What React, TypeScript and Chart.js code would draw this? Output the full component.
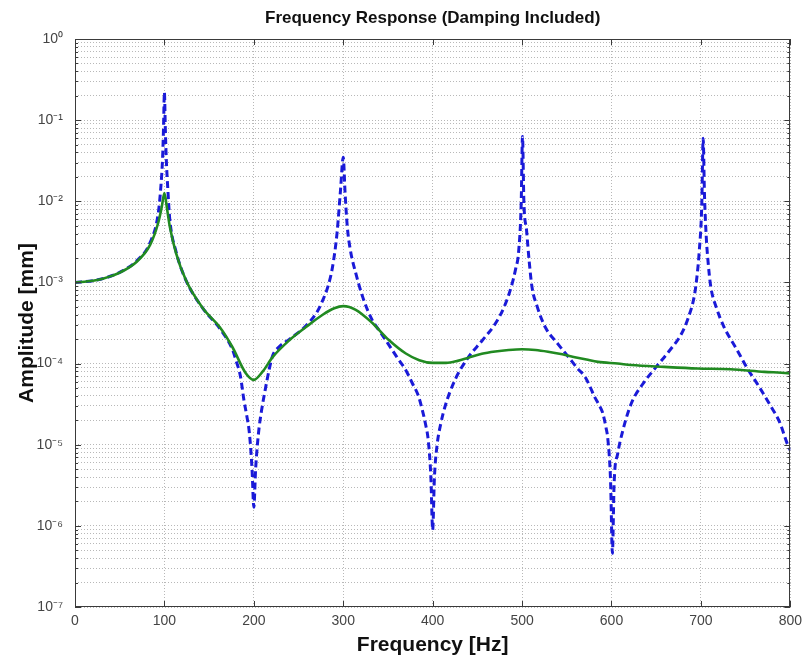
import React, { useEffect, useRef } from 'react';
import { Chart, registerables } from 'chart.js';

Chart.register(...registerables);

// Frequency [Hz] and amplitude [mm]
const freqBlue = [0, 20, 32, 50, 69, 84, 93, 96, 98, 99, 100, 101, 102, 104, 106, 113, 124, 143, 162, 176, 180, 185, 189, 192, 195, 198, 200, 202, 204, 206, 209, 212, 217, 221, 228, 240, 258, 270, 277, 283, 288, 293, 297, 300, 302, 304.5, 308, 314, 322, 332, 342, 351, 360, 370, 377, 384, 388, 392, 395, 398, 400, 402, 405, 409, 414, 425, 440, 455, 470, 480, 488, 493, 496, 499, 500.5, 502, 505, 508, 511, 517, 526, 540, 552, 562, 570, 576, 581, 586, 590, 594, 596, 599, 601, 603, 607, 612, 622, 635, 650, 665, 678, 686, 693, 696, 698, 701, 702.5, 704, 706, 708, 711, 717, 726, 740, 752, 765, 778, 788, 797, 800];
const ampBlue = [1.0e-3, 1.05e-3, 1.12e-3, 1.33e-3, 1.85e-3, 3.1e-3, 7e-3, 1.5e-2, 3.5e-2, 8e-2, 0.22, 8e-2, 3.5e-2, 1.3e-2, 6e-3, 2.4e-3, 1.07e-3, 4.8e-4, 2.7e-4, 1.5e-4, 1.1e-4, 7e-5, 3.5e-5, 2.3e-5, 1.4e-5, 5e-6, 1.7e-6, 5e-6, 1.0e-5, 1.66e-5, 2.8e-5, 4.3e-5, 8.3e-5, 1.25e-4, 1.6e-4, 2.0e-4, 2.9e-4, 4.2e-4, 6.0e-4, 9e-4, 1.55e-3, 4.0e-3, 1.4e-2, 3.5e-2, 1.3e-2, 4.9e-3, 2.5e-3, 1.3e-3, 6.5e-4, 3.5e-4, 2.4e-4, 1.7e-4, 1.2e-4, 8.3e-5, 5.8e-5, 4.0e-5, 2.8e-5, 1.8e-5, 1.15e-5, 4e-6, 8.9e-7, 4e-6, 1.0e-5, 1.8e-5, 3.0e-5, 6.3e-5, 1.2e-4, 1.9e-4, 3.1e-4, 5.0e-4, 8.9e-4, 1.5e-3, 2.3e-3, 9.3e-3, 6.3e-2, 1.0e-2, 4.4e-3, 1.8e-3, 8.9e-4, 5.0e-4, 2.8e-4, 1.75e-4, 1.2e-4, 8.7e-5, 7e-5, 5.2e-5, 3.9e-5, 3.1e-5, 2.5e-5, 1.6e-5, 1.15e-5, 3.5e-6, 4.6e-7, 3.5e-6, 7.8e-6, 1.4e-5, 3.2e-5, 5.6e-5, 9.1e-5, 1.45e-4, 2.3e-4, 3.7e-4, 7.2e-4, 1.3e-3, 2.3e-3, 9.3e-3, 6e-2, 1.2e-2, 3.6e-3, 1.8e-3, 8.9e-4, 5.0e-4, 2.8e-4, 1.5e-4, 8.7e-5, 5.2e-5, 3.0e-5, 1.9e-5, 1.0e-5, 8.5e-6];

const freqGreen = [0, 20, 32, 50, 69, 84, 93, 97, 100, 103, 106, 113, 124, 143, 162, 176, 191, 200, 210, 221, 240, 258, 277, 290, 300, 314, 332, 351, 370, 385, 400, 415, 428, 440, 455, 470, 485, 500, 515, 529, 545, 559, 572, 585, 607, 622, 659, 696, 733, 771, 797, 800];
const ampGreen = [1.0e-3, 1.05e-3, 1.12e-3, 1.32e-3, 1.8e-3, 2.9e-3, 5.4e-3, 8.5e-3, 1.26e-2, 8.0e-3, 4.9e-3, 2.3e-3, 1.07e-3, 4.8e-4, 2.8e-4, 1.6e-4, 7.6e-5, 6.3e-5, 8.0e-5, 1.2e-4, 1.95e-4, 2.8e-4, 4.0e-4, 4.8e-4, 5.1e-4, 4.6e-4, 3.2e-4, 1.95e-4, 1.33e-4, 1.1e-4, 1.02e-4, 1.02e-4, 1.08e-4, 1.18e-4, 1.32e-4, 1.41e-4, 1.47e-4, 1.5e-4, 1.47e-4, 1.4e-4, 1.3e-4, 1.2e-4, 1.12e-4, 1.05e-4, 1.0e-4, 9.6e-5, 9.1e-5, 8.7e-5, 8.5e-5, 7.9e-5, 7.6e-5, 7.5e-5];

const xTickValues = [0, 100, 200, 300, 400, 500, 600, 700, 800];
const decadeExponents = [-7, -6, -5, -4, -3, -2, -1, 0];
const minorMultipliers = [1, 2, 3, 4, 5, 6, 7, 8, 9];

const TITLE = 'Frequency Response (Damping Included)';
const X_TITLE = 'Frequency [Hz]';
const Y_TITLE = 'Amplitude [mm]';

const FONT = "'Liberation Sans', Arial, Helvetica, sans-serif";

const SUP: Record<string, string> = {
  '-': '\u207B', '0': '\u2070', '1': '\u00B9', '2': '\u00B2', '3': '\u00B3',
  '4': '\u2074', '5': '\u2075', '6': '\u2076', '7': '\u2077', '8': '\u2078', '9': '\u2079',
};
const sup = (n: number) => String(n).split('').map((c) => SUP[c] || c).join('');

const yTickValues: number[] = [];
decadeExponents.forEach((d) => {
  if (d === 0) {
    yTickValues.push(1);
  } else {
    minorMultipliers.forEach((m) => yTickValues.push(Number((m * Math.pow(10, d)).toPrecision(3))));
  }
});

const isDecade = (v: number) => {
  const l = Math.log10(v);
  return Math.abs(l - Math.round(l)) < 1e-9;
};

const boxPlugin = {
  id: 'matlabBox',
  afterDraw(chart: any) {
    const { ctx, chartArea: a, scales } = chart;
    ctx.save();
    ctx.strokeStyle = '#3a3a3a';
    ctx.lineWidth = 1;
    ctx.strokeRect(Math.round(a.left) + 0.5, Math.round(a.top) + 0.5, Math.round(a.right - a.left) - 1, Math.round(a.bottom - a.top) - 1);
    ctx.beginPath();
    xTickValues.forEach((v) => {
      const px = Math.round(scales.x.getPixelForValue(v)) + 0.5;
      ctx.moveTo(px, a.bottom);
      ctx.lineTo(px, a.bottom - 6);
      ctx.moveTo(px, a.top);
      ctx.lineTo(px, a.top + 6);
    });
    yTickValues.forEach((v) => {
      const py = Math.round(scales.y.getPixelForValue(v)) + 0.5;
      const len = isDecade(v) ? 6 : 3;
      ctx.moveTo(a.left, py);
      ctx.lineTo(a.left + len, py);
      ctx.moveTo(a.right, py);
      ctx.lineTo(a.right - len, py);
    });
    ctx.stroke();
    // title centred over the plot area
    ctx.fillStyle = '#111';
    ctx.font = `bold 17px ${FONT}`;
    ctx.textAlign = 'center';
    ctx.textBaseline = 'middle';
    ctx.fillText(TITLE, (a.left + a.right) / 2, 18);
    ctx.restore();
  },
};

export default function App() {
  const canvasRef = useRef<HTMLCanvasElement | null>(null);

  useEffect(() => {
    document.body.style.margin = '0';
    const canvas = canvasRef.current;
    if (!canvas) return;
    const chart = new Chart(canvas, {
      type: 'line',
      data: {
        datasets: [
          {
            label: 'Damped',
            data: freqGreen.map((f, i) => ({ x: f, y: ampGreen[i] })),
            borderColor: '#218a21',
            borderWidth: 2.6,
            pointRadius: 0,
            cubicInterpolationMode: 'monotone',
            order: 0,
          },
          {
            label: 'Undamped',
            data: freqBlue.map((f, i) => ({ x: f, y: ampBlue[i] })),
            borderColor: '#1a1ad8',
            borderWidth: 3,
            borderDash: [7, 4],
            pointRadius: 0,
            cubicInterpolationMode: 'monotone',
            order: 1,
          },
        ],
      },
      options: {
        animation: false,
        responsive: true,
        maintainAspectRatio: false,
        layout: { padding: { left: 0, right: 15, top: 39, bottom: 0 } },
        plugins: {
          legend: { display: false },
          tooltip: { enabled: false },
          title: { display: false },
        },
        scales: {
          x: {
            type: 'linear',
            min: 0,
            max: 800,
            afterBuildTicks: (scale: any) => {
              scale.ticks = xTickValues.map((v) => ({ value: v }));
            },
            afterFit: (scale: any) => {
              scale.height = 52;
            },
            ticks: {
              color: '#444',
              font: { family: FONT, size: 14 },
              padding: 6,
              maxRotation: 0,
              autoSkip: false,
            },
            grid: { color: '#b8b8b8', lineWidth: 1, drawTicks: false },
            border: { display: false, dash: [1, 2] },
            title: {
              display: true,
              text: X_TITLE,
              color: '#111',
              font: { family: FONT, size: 21, weight: 'bold' },
              padding: { top: 0, bottom: 1 },
            },
          },
          y: {
            type: 'logarithmic',
            min: 1e-7,
            max: 1,
            afterBuildTicks: (scale: any) => {
              scale.ticks = yTickValues.map((v) => ({ value: v, major: isDecade(v) }));
            },
            afterFit: (scale: any) => {
              scale.width = 75;
            },
            ticks: {
              color: '#444',
              font: { family: FONT, size: 14 },
              padding: 12,
              autoSkip: false,
              callback: (value: any) => {
                const v = Number(value);
                if (!isDecade(v)) return '';
                return '10' + sup(Math.round(Math.log10(v)));
              },
            },
            grid: { color: '#b8b8b8', lineWidth: 1, drawTicks: false },
            border: { display: false, dash: [1, 2] },
            title: {
              display: true,
              text: Y_TITLE,
              color: '#111',
              font: { family: FONT, size: 21, weight: 'bold' },
              padding: { top: 15, bottom: 0 },
            },
          },
        },
      },
      plugins: [boxPlugin],
    } as any);
    return () => chart.destroy();
  }, []);

  return (
    <div style={{ position: 'fixed', left: 0, top: 0, width: 808, height: 659, background: '#fff' }}>
      <canvas ref={canvasRef} />
    </div>
  );
}
